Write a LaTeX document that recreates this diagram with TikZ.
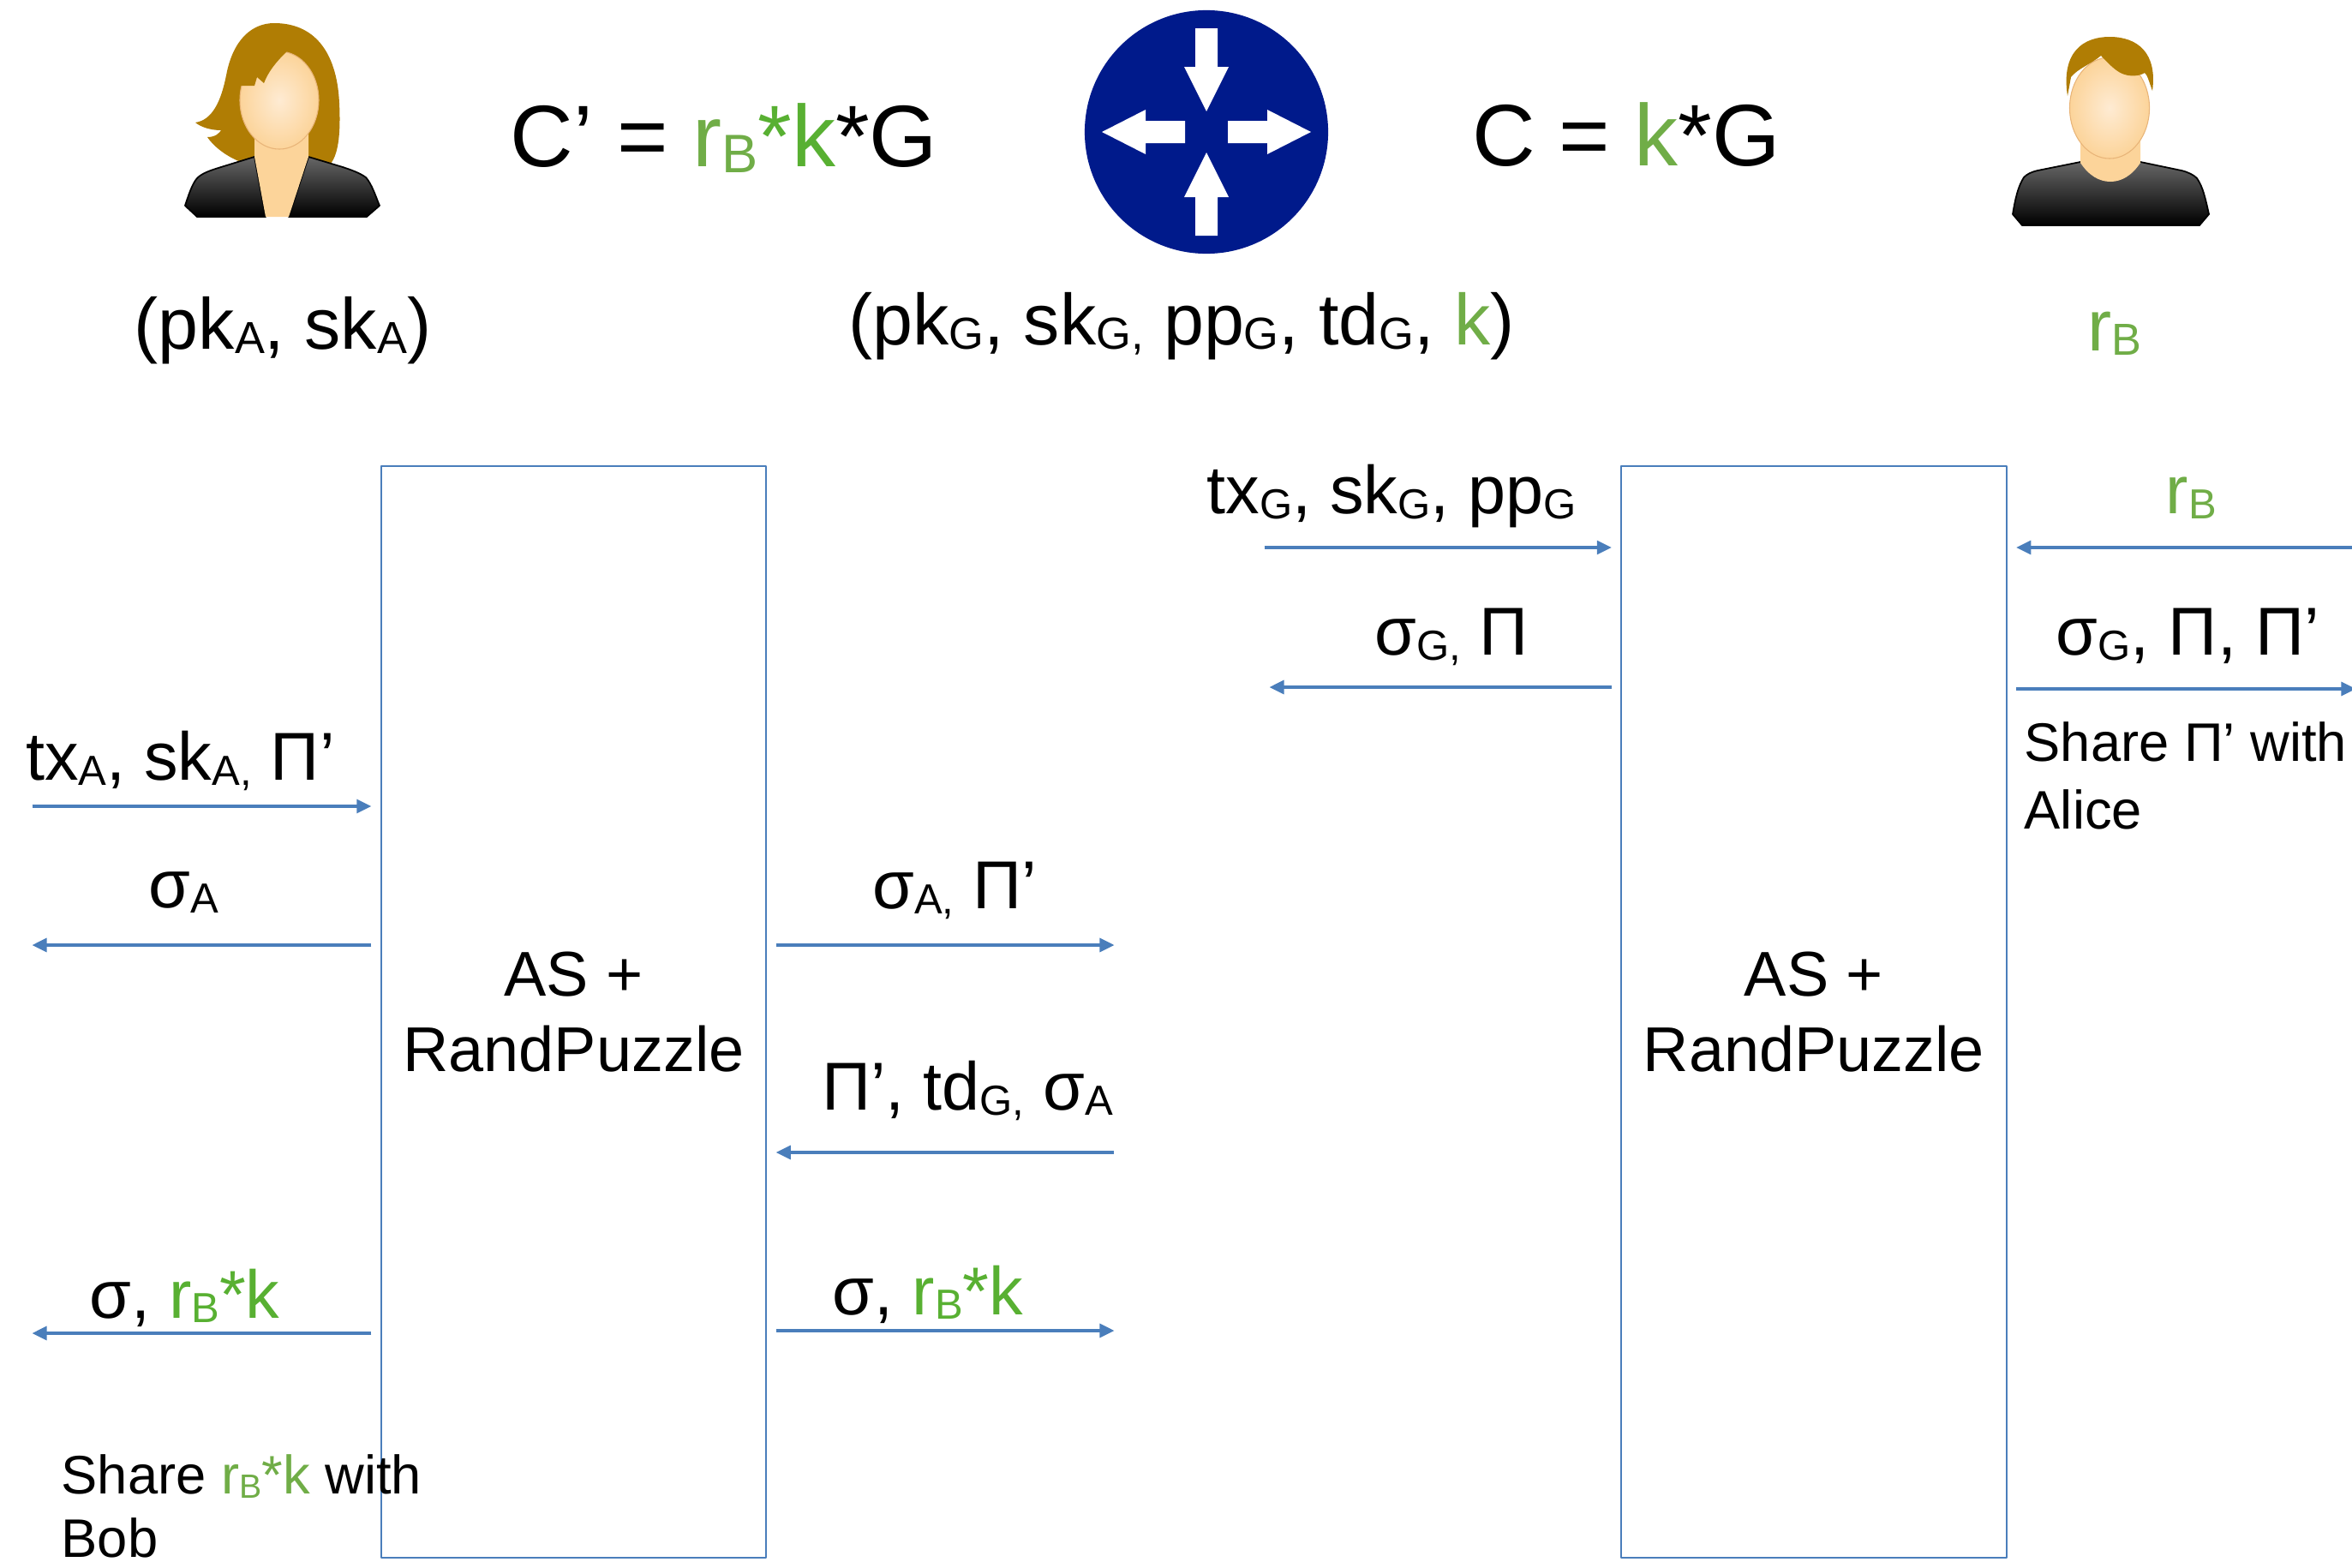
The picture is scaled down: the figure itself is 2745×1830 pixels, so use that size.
\documentclass[tikz,border=0pt]{standalone}
\usepackage{fontspec}
\setmainfont{Liberation Sans}
\usepackage{graphicx}
\usetikzlibrary{positioning,arrows.meta,shapes.geometric}
\definecolor{lineblue}{HTML}{4A7EBB}
\definecolor{rgreen}{HTML}{70AD47}
\definecolor{kgreen}{HTML}{58B032}
\definecolor{routerblue}{HTML}{001A8B}
\definecolor{hair}{HTML}{B07D04}
\definecolor{skin}{HTML}{FCD49A}
\definecolor{skinlight}{HTML}{FEEBD3}
\definecolor{skinedge}{HTML}{E8B478}
\tikzstyle{box}=[draw=lineblue,line width=0.6pt,minimum width=4.49cm,minimum height=12.74cm,align=center,font=\fontsize{21}{25}\selectfont]
\tikzstyle{msg}=[->,draw=lineblue,line width=0.9pt,shorten >=3pt,shorten <=3pt]
\tikzstyle{lbl}=[anchor=base,inner sep=0pt,font=\fontsize{22.5}{27}\selectfont]
\tikzstyle{note}=[anchor=north west,inner sep=0pt,align=left,font=\fontsize{18}{21}\selectfont]
\tikzstyle{formula}=[anchor=base,inner sep=0pt,font=\fontsize{29}{34}\selectfont]
\tikzstyle{keys}=[anchor=base,inner sep=0pt,font=\fontsize{24}{29}\selectfont]
\tikzstyle{shirt}=[top color=black!60,bottom color=black,draw=black,line width=0.5pt]
\tikzstyle{face}=[inner color=skinlight,outer color=skin,draw=skinedge,line width=0.3pt]
\newcommand{\sbs}[1]{\raisebox{-0.07em}{\scalebox{0.62}{#1}}}
\newcommand{\newMsg}[4]{\draw[msg] (#1) -- node[lbl,#4] {#3} (#2);}

\begin{document}
\begin{tikzpicture}[x=0.01cm,y=-0.01cm,
      >={Triangle[length=0.17cm,width=0.16cm]},
      line join=round
      ]
      \useasboundingbox (0,0) rectangle (2745,1830);

      % Alice
      \fill[hair] (228,143) .. controls (248,140) and (258,118) .. (264,88)
        .. controls (272,45) and (295,27) .. (320,27)
        .. controls (365,27) and (393,58) .. (396,120)
        .. controls (398,160) and (394,182) .. (385,192) -- (290,192)
        .. controls (268,186) and (250,172) .. (242,160)
        .. controls (252,160) and (256,155) .. (258,152)
        .. controls (245,152) and (234,148) .. (228,143) -- cycle;
      \shade[shirt] (216,240) .. controls (220,228) and (224,215) .. (230,208)
        .. controls (236,202) and (245,199) .. (258,195) -- (297,183) -- (310,253) -- (230,253) -- cycle;
      \shade[shirt] (443,240) .. controls (438,228) and (434,215) .. (427,207)
        .. controls (420,202) and (412,199) .. (400,195) -- (360,183) -- (337,253) -- (428,253) -- cycle;
      \fill[skin] (297,150) -- (297,183) -- (310,253) -- (337,253) -- (360,183) -- (360,150) -- cycle;
      \shade[face] (326,117) ellipse [x radius=0.46cm, y radius=0.57cm];
      \fill[hair] (279,62) -- (337,58) .. controls (322,72) and (313,84) .. (308,97)
        -- (300,90) -- (297,100) -- (279,100) -- cycle;

      % gateway
      \node[circle,fill=routerblue,minimum size=2.84cm,inner sep=0pt] (router) at (1408,154) {};
      \begin{scope}[shift={(router.center)}]
        \foreach \a in {0,180}
          \fill[white,rotate=\a] (25,-13) -- (71,-13) -- (71,-26) -- (122,0) -- (71,26) -- (71,13) -- (25,13) -- cycle;
        \foreach \a in {90,270}
          \fill[white,rotate=\a] (121,-13) -- (76,-13) -- (76,-26) -- (24,0) -- (76,26) -- (76,13) -- (121,13) -- cycle;
      \end{scope}

      % Bob
      \shade[shirt] (2349,250) .. controls (2352,232) and (2355,218) .. (2362,207)
        .. controls (2366,203) and (2370,201) .. (2378,199) -- (2428,189) -- (2498,189) -- (2546,199)
        .. controls (2554,201) and (2560,204) .. (2564,208)
        .. controls (2571,218) and (2574,232) .. (2578,250) -- (2567,263) -- (2360,263) -- cycle;
      \fill[skin] (2428,160) -- (2428,190) .. controls (2438,205) and (2450,212) .. (2463,212)
        .. controls (2476,212) and (2488,205) .. (2498,190) -- (2498,160) -- cycle;
      \shade[face] (2462,126) ellipse [x radius=0.465cm, y radius=0.59cm];
      \fill[hair] (2413,112) .. controls (2405,60) and (2432,43) .. (2462,43)
        .. controls (2495,43) and (2518,62) .. (2512,106)
        .. controls (2508,95) and (2506,87) .. (2503,85)
        .. controls (2495,90) and (2480,90) .. (2470,82)
        .. controls (2462,76) and (2457,70) .. (2452,65)
        .. controls (2440,75) and (2425,80) .. (2417,90) -- cycle;

      \node[formula] (cPrime) at (845,194) {C’ = {\color{rgreen}r\sbs{B}}{\color{kgreen}*k}*G};
      \node[formula] (cEq) at (1898,193) {C = {\color{rgreen}k}*G};
      \node[keys] (keysA) at (330,407) {(pk\sbs{A}, sk\sbs{A})};
      \node[keys] (keysG) at (1379,402) {(pk\sbs{G}, sk\sbs{G,} pp\sbs{G}, td\sbs{G}, {\color{rgreen}k})};
      \node[keys,text=rgreen] (keysB) at (2468,409) {r\sbs{B}};

      \node[box] (asL) at (669.5,1181) {AS +\\RandPuzzle};
      \node[box] (asR) at (2117,1181) {AS +\\RandPuzzle};

      \coordinate (a1) at (27,941);
      \coordinate (a2) at (27,1103);
      \coordinate (a3) at (27,1556);
      \coordinate (g1) at (1311,1103);
      \coordinate (g2) at (1311,1345);
      \coordinate (g3) at (1311,1553);
      \coordinate (g4) at (1465,639);
      \coordinate (g5) at (1471,802);
      \coordinate (b1) at (2760,639);
      \coordinate (b2) at (2760,804);

      \newMsg{a1}{asL.west |- a1}{tx\sbs{A}, sk\sbs{A,} Π’}{xshift=-0.25cm,yshift=0.30cm}
      \newMsg{asL.west |- a2}{a2}{σ\sbs{A}}{xshift=-0.21cm,yshift=0.43cm}
      \newMsg{asL.west |- a3}{a3}{σ, {\color{kgreen}r\sbs{B}*k}}{xshift=-0.20cm,yshift=0.18cm}
      \newMsg{asL.east |- g1}{g1}{σ\sbs{A,} Π’}{xshift=0.11cm,yshift=0.42cm}
      \newMsg{g2}{asL.east |- g2}{Π’, td\sbs{G,} σ\sbs{A}}{xshift=0.26cm,yshift=0.49cm}
      \newMsg{asL.east |- g3}{g3}{σ, {\color{kgreen}r\sbs{B}*k}}{xshift=-0.20cm,yshift=0.19cm}
      \newMsg{g4}{asR.west |- g4}{tx\sbs{G}, sk\sbs{G}, pp\sbs{G}}{xshift=-0.54cm,yshift=0.39cm}
      \newMsg{asR.west |- g5}{g5}{σ\sbs{G,} Π}{xshift=0.13cm,yshift=0.37cm}
      \newMsg{b1}{asR.east |- b1}{{\color{rgreen}r\sbs{B}}}{xshift=0.06cm,yshift=0.39cm}
      \newMsg{asR.east |- b2}{b2}{σ\sbs{G}, Π, Π’}{xshift=0.02cm,yshift=0.39cm}

      \node[note,font=\fontsize{18}{22.5}\selectfont] (shareP) at (2362,842) {Share Π’ with\\Alice};
      \node[note] (shareK) at (71,1697) {Share {\color{rgreen}r\sbs{B}*k} with\\Bob};
    \end{tikzpicture}
\end{document}
